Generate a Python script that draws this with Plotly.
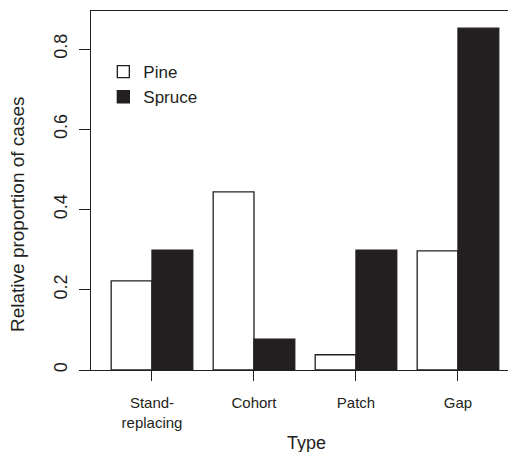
import plotly.graph_objects as go

categories = ["Stand-<br>replacing", "Cohort", "Patch", "Gap"]
pine = [0.222, 0.444, 0.038, 0.297]
spruce = [0.299, 0.077, 0.299, 0.852]
y_tickvals = [0, 0.2, 0.4, 0.6, 0.8]
y_ticktext = ["0", "0.2", "0.4", "0.6", "0.8"]

ink = "#231f20"
font = "Liberation Sans, Arial, sans-serif"

fig = go.Figure()
fig.add_trace(go.Bar(x=categories, y=pine, name="Pine",
                     marker=dict(color="white", line=dict(color=ink, width=1.3))))
fig.add_trace(go.Bar(x=categories, y=spruce, name="Spruce",
                     marker=dict(color=ink, line=dict(color=ink, width=1.3))))

# page body has an 8px margin, so the figure is 8px smaller and offset
fig.update_layout(
    width=508, height=444,
    margin=dict(l=83, r=0, t=3, b=82, autoexpand=False),
    paper_bgcolor="white", plot_bgcolor="white",
    barmode="group", bargap=0.2, bargroupgap=0,
    font=dict(family=font, color=ink, size=18),
    showlegend=True,
    legend=dict(x=0.029, y=0.88, xanchor="left", yanchor="top",
                font=dict(size=17, color=ink), bgcolor="rgba(0,0,0,0)",
                tracegroupgap=0, itemwidth=30),
    xaxis=dict(range=[-0.598, 3.569], showline=True, mirror=True, automargin=False,
               linecolor=ink, linewidth=1.3, ticks="outside", ticklen=10,
               tickcolor=ink, tickwidth=1.3, showgrid=False, zeroline=False,
               tickfont=dict(size=15, color=ink), ticklabelstandoff=9),
    yaxis=dict(range=[0, 0.8947], showline=True, mirror=False, automargin=False,
               linecolor=ink, linewidth=1.3, ticks="outside", ticklen=11,
               tickcolor=ink, tickwidth=1.3, showgrid=False, zeroline=False,
               tickvals=y_tickvals, ticktext=y_ticktext, tickangle=-90,
               tickfont=dict(size=18, color=ink), ticklabelstandoff=5),
    annotations=[
        dict(text="Type", xref="paper", yref="paper", x=0.506, y=0,
             xanchor="center", yanchor="top", yshift=-61, showarrow=False,
             font=dict(size=18, color=ink)),
        dict(text="Relative proportion of cases", xref="paper", yref="paper",
             x=0, y=0.4345, xanchor="center", yanchor="middle", xshift=-74,
             textangle=-90, showarrow=False, font=dict(size=19, color=ink)),
    ],
)

fig.write_html("out.html")
